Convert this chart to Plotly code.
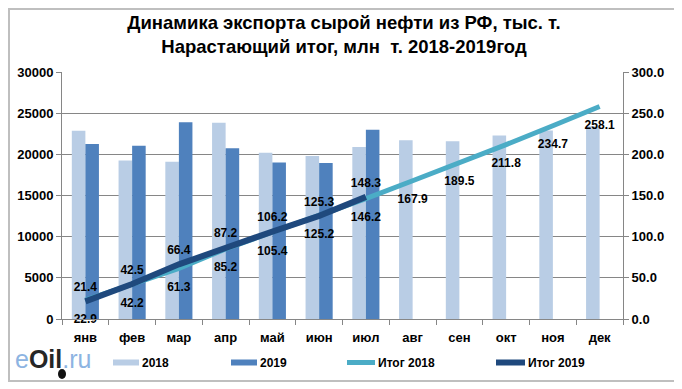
import plotly.graph_objects as go

months = ["янв", "фев", "мар", "апр", "май", "июн", "июл", "авг", "сен", "окт", "ноя", "дек"]
exp_2018 = [22850, 19250, 19100, 23850, 20200, 19800, 20900, 21700, 21600, 22300, 22900, 23400]
exp_2019 = [21250, 21050, 23900, 20750, 19000, 18950, 23000]
cum_2018 = [22.9, 42.2, 61.3, 85.2, 105.4, 125.2, 146.2, 167.9, 189.5, 211.8, 234.7, 258.1]
cum_2019 = [21.4, 42.5, 66.4, 87.2, 106.2, 125.3, 148.3]
left_ticks = [0, 5000, 10000, 15000, 20000, 25000, 30000]
right_ticks = [0, 50, 100, 150, 200, 250, 300]
series_names = ["2018", "2019", "Итог 2018", "Итог 2019"]

C18 = "#B9CDE5"
C19 = "#4F81BD"
L18 = "#4BACC6"
L19 = "#1F497D"
AX = "#868686"
FONT = "Liberation Sans"
OFF = 8                      # page body margin
W, H = 682 - OFF, 389 - OFF
L, T = 62 - OFF, 72 - OFF
R = W - (623 - OFF)
B = H - (319 - OFF)

fig = go.Figure()
fig.add_trace(go.Bar(x=months, y=exp_2018, name=series_names[0], marker=dict(color=C18, line=dict(width=0)),
                     hoverinfo="skip"))
fig.add_trace(go.Bar(x=months[:len(exp_2019)], y=exp_2019, name=series_names[1],
                     marker=dict(color=C19, line=dict(width=0)), hoverinfo="skip"))
fig.add_trace(go.Scatter(x=months, y=cum_2018, yaxis="y2", mode="lines+markers+text", name=series_names[2],
                         line=dict(color=L18, width=5), marker=dict(size=20, color="rgba(0,0,0,0)"),
                         text=[f"<b>{v:.1f}</b>" for v in cum_2018], cliponaxis=False,
                         textposition="bottom center", textfont=dict(family=FONT, size=12, color="black")))
fig.add_trace(go.Scatter(x=months[:len(cum_2019)], y=cum_2019, yaxis="y2", mode="lines+markers+text",
                         name=series_names[3], line=dict(color=L19, width=6),
                         marker=dict(size=10, color="rgba(0,0,0,0)"), cliponaxis=False,
                         text=[f"<b>{v:.1f}</b>" for v in cum_2019],
                         textposition="top center", textfont=dict(family=FONT, size=12, color="black")))

fig.update_layout(
    width=W, height=H,
    margin=dict(l=L, r=R, t=T, b=B, autoexpand=False),
    paper_bgcolor="white", plot_bgcolor="white",
    showlegend=False,
    barmode="group", bargap=0.42, bargroupgap=0,
    title=dict(text="<b>Динамика экспорта сырой нефти из РФ, тыс. т.<br>Нарастающий итог, млн  т. 2018-2019год</b>",
               x=(344 - OFF) / W, xanchor="center", y=1 - (28.5 - OFF) / H, yanchor="middle",
               font=dict(family=FONT, size=18.5, color="black")),
    xaxis=dict(type="category", categoryarray=months, categoryorder="array", range=[-0.5, 11.5],
               tickson="boundaries", ticks="outside", ticklen=5, tickcolor=AX, ticklabelstandoff=6,
               showline=True, linecolor=AX, showgrid=False,
               tickfont=dict(family=FONT, size=13, color="black", weight="bold")),
    yaxis=dict(range=[0, 30000], tickvals=left_ticks, tickformat="d", showgrid=True, gridcolor=AX,
               gridwidth=1, showline=True, linecolor=AX, ticks="outside", ticklen=5, tickcolor=AX,
               tickfont=dict(family=FONT, size=13, color="black", weight="bold"), zeroline=False),
    yaxis2=dict(range=[0, 300], tickvals=right_ticks, tickformat=".1f", overlaying="y", side="right",
                showgrid=False, showline=True, linecolor=AX, ticks="outside", ticklen=5,
                tickcolor=AX, tickfont=dict(family=FONT, size=13, color="black", weight="bold"), zeroline=False),
)

pw, ph = W - L - R, H - T - B
def px(x):   # reference-pixel x -> paper
    return (x - OFF - L) / pw
def py(y):   # reference-pixel y -> paper
    return (H - B - (y - OFF)) / ph

# outer frame
fig.add_shape(type="rect", xref="paper", yref="paper",
              x0=px(9), x1=px(675), y0=py(381), y1=py(9),
              line=dict(color="#BFBFBF", width=2), fillcolor="rgba(0,0,0,0)", layer="below")

# legend drawn at the reference positions
leg_y = 362.5
leg_items = [(series_names[0], C18, 6, 113, 139), (series_names[1], C19, 6, 231, 257),
             (series_names[2], L18, 5, 347, 375), (series_names[3], L19, 6, 496, 525)]
for name, col, wd, xa, xb in leg_items:
    fig.add_shape(type="line", xref="paper", yref="paper", x0=px(xa), x1=px(xb), y0=py(leg_y), y1=py(leg_y),
                  line=dict(color=col, width=wd))
    fig.add_annotation(xref="paper", yref="paper", x=px(xb + 1), y=py(leg_y), xanchor="left", yanchor="middle",
                       showarrow=False, text=f"<b>{name}</b>", font=dict(family=FONT, size=12, color="black"))

# eOil.ru logo
fig.add_annotation(xref="paper", yref="paper", x=px(53), y=py(359), xanchor="center", yanchor="middle",
                   showarrow=False,
                   text="<span style='color:#8DB4E2'>e</span><b><span style='color:#262626'>Oil</span></b>"
                        "<span style='color:#8DB4E2'>.ru</span>",
                   font=dict(family="Liberation Sans", size=25))
fig.add_shape(type="circle", xref="paper", yref="paper", x0=px(58), x1=px(66), y0=py(379), y1=py(369),
              fillcolor="#111111", line=dict(width=0))

fig.write_html("out.html")
